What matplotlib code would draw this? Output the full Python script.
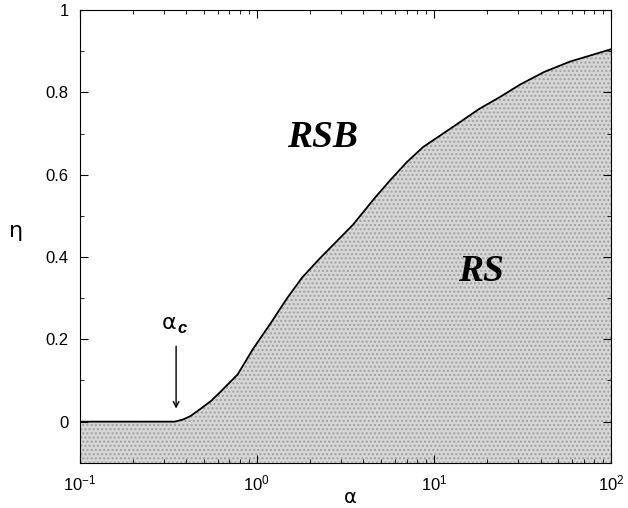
import numpy as np
import matplotlib
matplotlib.use('Agg')
import matplotlib.pyplot as plt

# phase boundary eta(alpha) between the RS and RSB phases
alpha = [0.1, 0.2, 0.344, 0.382, 0.42, 0.477, 0.55, 0.618, 0.78, 0.949,
         1.2, 1.476, 1.8, 2.27, 3.48, 4.64, 5.64, 7.0, 8.66, 13.5, 18.0,
         23.6, 30.6, 42.0, 58.6, 100.0]
eta = [0.0, 0.0, 0.0, 0.005, 0.013, 0.03, 0.05, 0.071, 0.115, 0.176,
       0.24, 0.299, 0.35, 0.397, 0.478, 0.544, 0.586, 0.63, 0.667, 0.723,
       0.76, 0.789, 0.819, 0.85, 0.875, 0.905]
alpha_c = 0.35

fig = plt.figure(figsize=(6.28, 5.08), dpi=100)
ax = fig.add_axes([0.127, 0.089, 0.846, 0.891])

ax.fill_between(alpha, -0.1, eta, facecolor='#d6d6d6', edgecolor='#a0a0a0',
                hatch='....', linewidth=0)
ax.plot(alpha, eta, color='black', lw=1.3)

ax.set_xscale('log')
ax.set_xlim(0.1, 100)
ax.set_ylim(-0.1, 1.0)
ax.set_yticks([0, 0.2, 0.4, 0.6, 0.8, 1.0])
ax.set_yticklabels(['0', '0.2', '0.4', '0.6', '0.8', '1'])
ax.set_yticks(np.arange(0.1, 1.0, 0.2), minor=True)
ax.tick_params(which='both', direction='in', top=True, right=True,
               labelsize=12, pad=8)
ax.tick_params(which='major', length=6)
ax.tick_params(which='minor', length=3)
for lab in ax.get_xticklabels() + ax.get_yticklabels():
    lab.set_family('Liberation Sans')

ax.set_xlabel('α', fontsize=14, family='DejaVu Sans', va='center')
ax.xaxis.set_label_coords(0.51, -0.076)
ax.set_ylabel('η', fontsize=16, family='DejaVu Sans', rotation=0)
ax.yaxis.set_label_coords(-0.12, 0.49)

serif = dict(family='Liberation Serif', weight='bold', style='italic',
             fontsize=27, ha='center', va='center')
ax.text(2.35, 0.69, 'RSB', **serif)
ax.text(18.5, 0.365, 'RS', **serif)

ax.annotate('', xy=(alpha_c, 0.025), xytext=(alpha_c, 0.19),
            arrowprops=dict(arrowstyle='->', color='black', lw=1.0))
ax.text(alpha_c, 0.215, 'α', fontsize=16, family='DejaVu Sans',
        ha='right', va='bottom')
ax.annotate('c', xy=(alpha_c, 0.215), xytext=(1, -2),
            textcoords='offset points', fontsize=12, style='italic',
            weight='bold', family='Liberation Sans', ha='left', va='bottom')

fig.savefig('out.png', dpi=100)
